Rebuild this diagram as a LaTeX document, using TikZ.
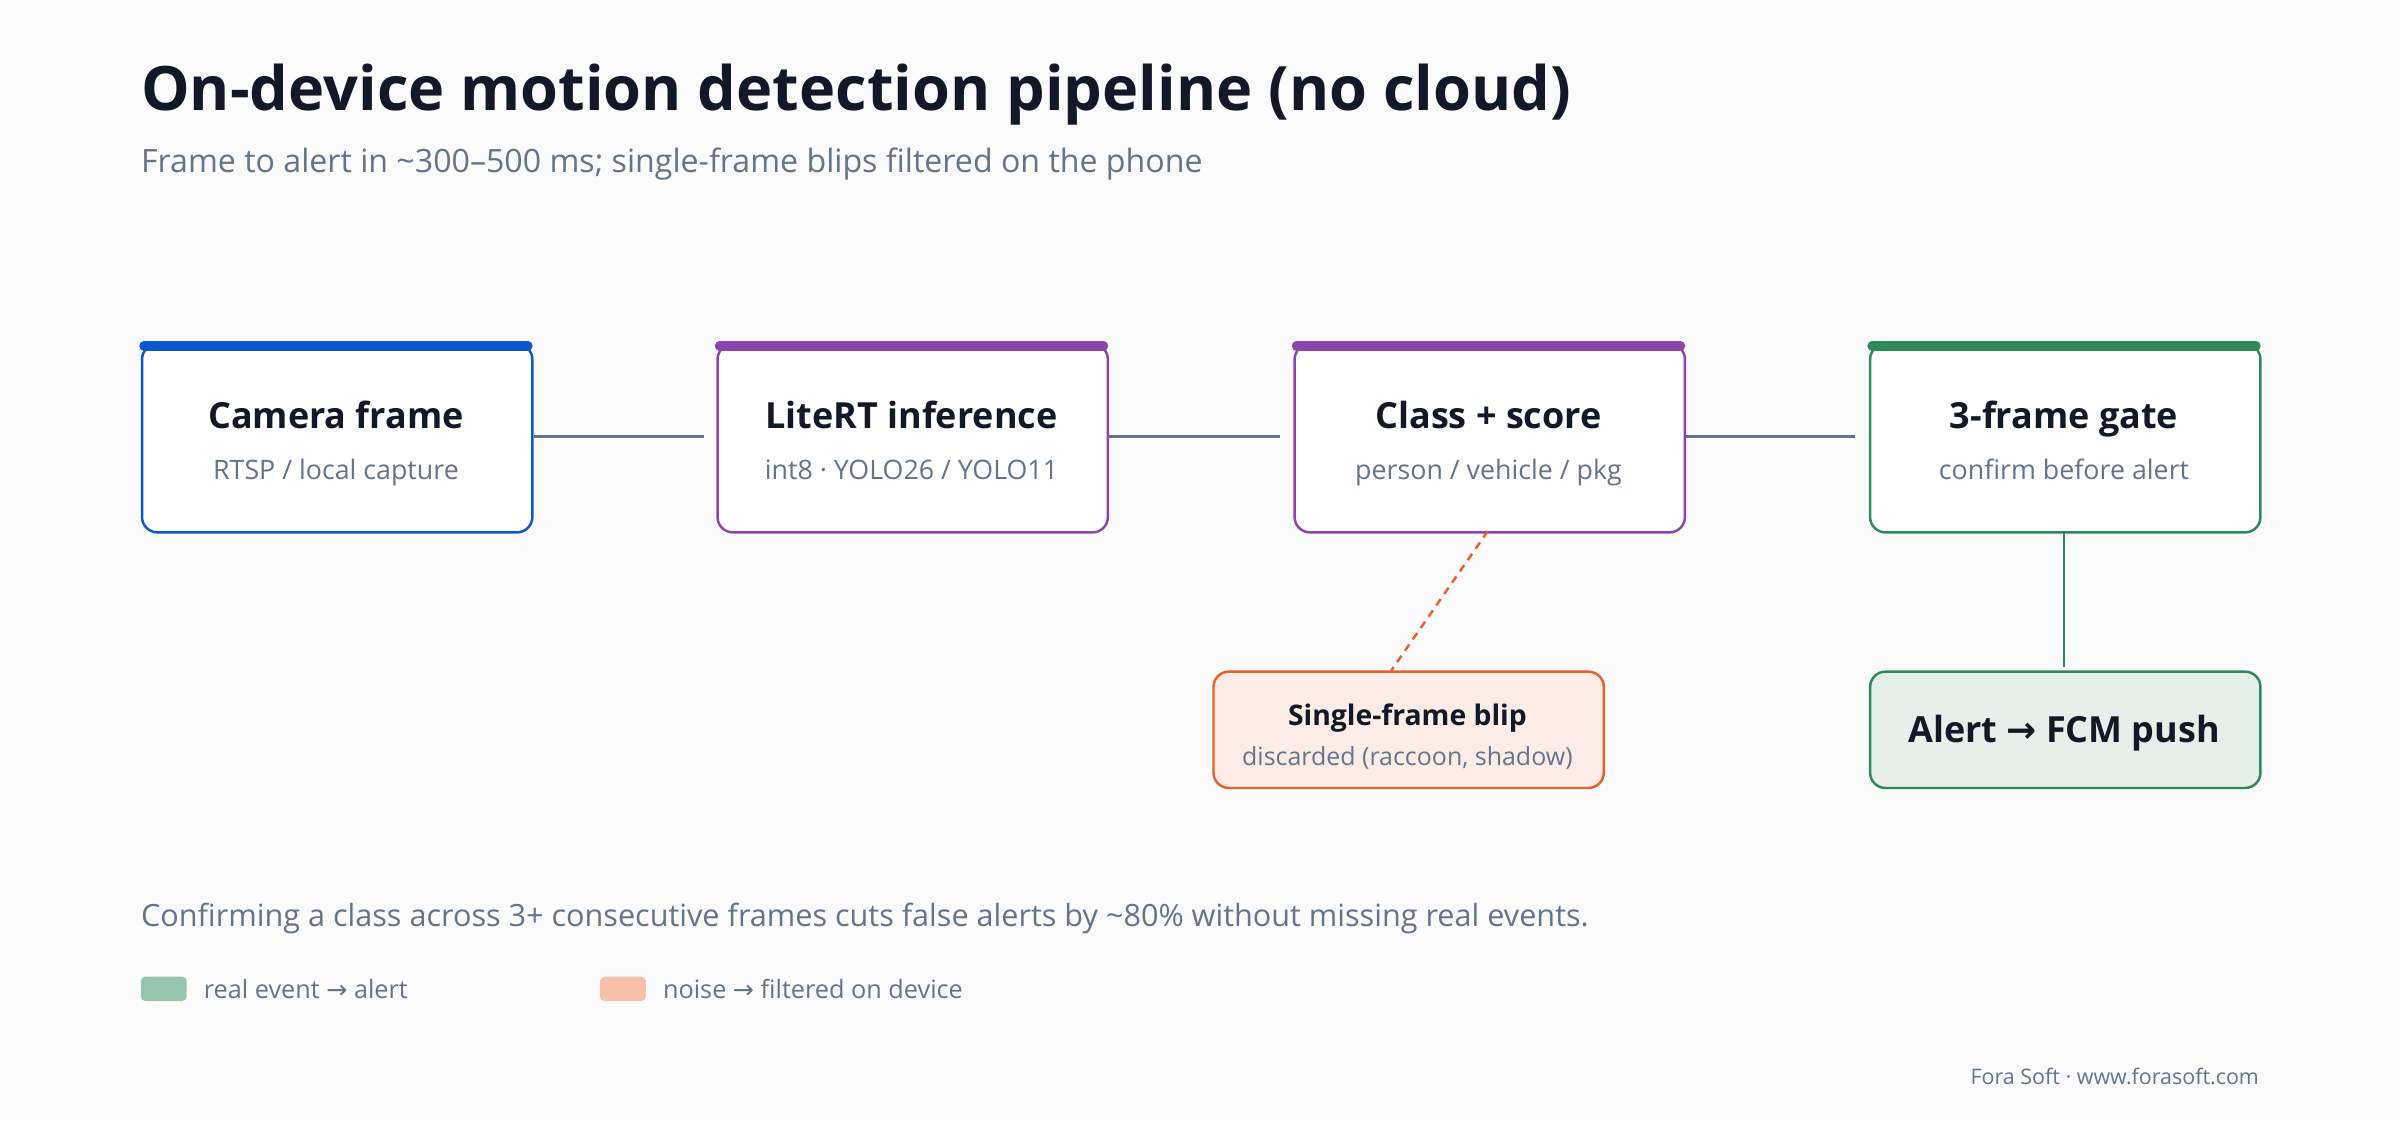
\documentclass[tikz,border=0pt]{standalone}
\usepackage{fontspec}
\setmainfont{Open Sans}
\newfontfamily\arr{DejaVu Sans}
\definecolor{ink}{HTML}{111827}
\definecolor{mute}{HTML}{64748B}
\definecolor{cblue}{HTML}{0B57D0}
\definecolor{cpurp}{HTML}{8E44AD}
\definecolor{cgreen}{HTML}{2E8B57}
\definecolor{corange}{HTML}{E8612C}
\definecolor{bg}{HTML}{FBFBFB}
\begin{document}
\begin{tikzpicture}[x=1pt,y=-1pt,
  box/.style={draw=#1,line width=1.6pt,rounded corners=10pt,fill=white,minimum width=255pt,minimum height=123pt,anchor=north west,inner sep=0pt},
  ttl/.style={font=\fontsize{23.5}{26}\selectfont\bfseries,text=ink,anchor=base,inner sep=0},
  sub/.style={font=\fontsize{17.5}{19}\selectfont,text=mute,anchor=base,inner sep=0},
  con/.style={draw=mute,line width=1.8pt}]
\fill[bg] (0,0) rectangle (1568,732);
\useasboundingbox (0,0) rectangle (1568,732);
\node[anchor=west,text=ink,font=\fontsize{40}{44}\selectfont\bfseries,inner sep=0] (title) at (92,62) {On-device motion detection pipeline (no cloud)};
\node[anchor=west,text=mute,font=\fontsize{21}{24}\selectfont,inner sep=0] (subt) at (92,107) {Frame to alert in \textasciitilde 300–500 ms; single-frame blips filtered on the phone};
\foreach \n/\x/\c/\t/\s in {a/92/cblue/Camera frame/{RTSP / local capture}, b/468/cpurp/LiteRT inference/{int8 · YOLO26 / YOLO11}, c/845/cpurp/Class + score/{person / vehicle / pkg}, d/1221/cgreen/3-frame gate/{confirm before alert}}{
  \node[box=\c] (\n) at (\x,224) {};
  \draw[\c,line width=6pt,line cap=round] (\x+2,226) -- (\x+253,226);
  \node[ttl] at (\x+127.5,280) {\t};
  \node[sub] at (\x+127.5,313) {\s};
}
\coordinate (ae) at (460,285); \coordinate (be) at (836,285); \coordinate (ce) at (1212,285);
\draw[con] (a.east|-ae) -- (ae);
\draw[con] (b.east|-be) -- (be);
\draw[con] (c.east|-ce) -- (ce);
\node[draw=corange,fill=corange!12,line width=1.6pt,rounded corners=10pt,minimum width=255pt,minimum height=76pt,anchor=north west] (e) at (792,438) {};
\node[font=\fontsize{18.5}{21}\selectfont\bfseries,text=ink,anchor=base,inner sep=0] at (919.5,474) {Single-frame blip};
\node[sub,font=\fontsize{16.3}{18}\selectfont] at (919.5,500) {discarded (raccoon, shadow)};
\draw[corange,line width=1.6pt,dash pattern=on 5pt off 4pt] (972,347) -- (909,438);
\node[draw=cgreen,fill=cgreen!13,line width=1.6pt,rounded corners=10pt,minimum width=255pt,minimum height=76pt,anchor=north west] (f) at (1221,438) {};
\node[ttl] at (1348.5,485) {Alert {\arr\bfseries →} FCM push};
\draw[cgreen,line width=1.8pt] (1348.5,347) -- (1348.5,436);
\node[anchor=west,text=mute,font=\fontsize{20}{22}\selectfont,inner sep=0] (note) at (92,600) {Confirming a class across 3+ consecutive frames cuts false alerts by \textasciitilde 80\% without missing real events.};
\fill[cgreen!50,rounded corners=3pt] (92,638) rectangle (122,654);
\node[anchor=west,text=mute,font=\fontsize{16.5}{19}\selectfont,inner sep=0] (l1) at (133,646) {real event {\arr →} alert};
\fill[corange!40,rounded corners=3pt] (392,638) rectangle (422,654);
\node[anchor=west,text=mute,font=\fontsize{16.5}{19}\selectfont,inner sep=0] (l2) at (433,646) {noise {\arr →} filtered on device};
\node[anchor=east,text=mute,font=\fontsize{14}{16}\selectfont,inner sep=0] (foot) at (1476,703) {Fora Soft · www.forasoft.com};
\end{tikzpicture}
\end{document}
